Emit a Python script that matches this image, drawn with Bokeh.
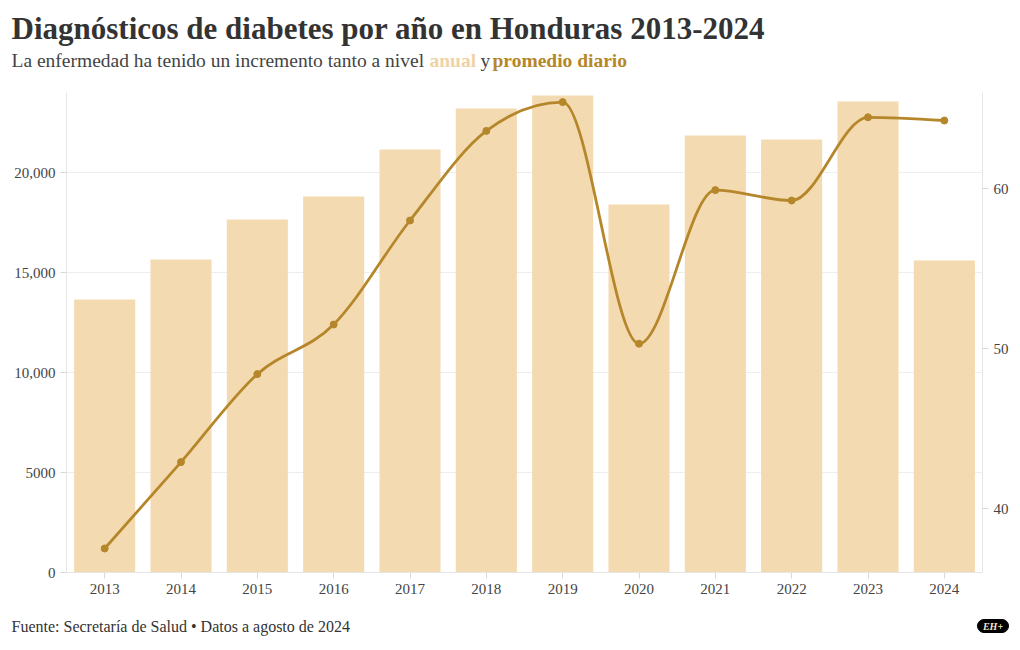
import numpy as np
from bokeh.plotting import figure
from bokeh.layouts import column
from bokeh.models import Range1d, LinearAxis, FixedTicker, ColumnDataSource
from bokeh.core.properties import value
from bokeh.embed import file_html
from bokeh.resources import INLINE

years = [2013, 2014, 2015, 2016, 2017, 2018, 2019, 2020, 2021, 2022, 2023, 2024]
anual = [13650, 15650, 17650, 18800, 21150, 23200, 23850, 18400, 21850, 21650, 23550, 15600]
diario = [37.5, 42.9, 48.4, 51.5, 58.0, 63.6, 65.4, 50.3, 59.9, 59.25, 64.45, 64.25]
left_ticks = [0, 5000, 10000, 15000, 20000]
left_labels = ["0", "5000", "10,000", "15,000", "20,000"]
right_ticks = [40, 50, 60]

title = "Diagnósticos de diabetes por año en Honduras 2013-2024"
sub_texts = ["La enfermedad ha tenido un incremento tanto a nivel", "anual", "y", "promedio diario"]
sub_colors = ["#444444", "#F0D2A4", "#444444", "#B5872A"]
sub_styles = ["normal", "bold", "normal", "bold"]
footer = "Fuente: Secretaría de Salud • Datos a agosto de 2024"
logo = "EH+"

BAR = "#F3DAB1"
LINE = "#B5872A"
FONT = "Liberation Serif"
W = 1020
HEAD_H, MAIN_H, FOOT_H = 84, 516, 50
FL, FR = 66, 982  # frame edges of the chart, page pixels


def blank(h, y0):
    f = figure(width=W, height=h, output_backend="svg", toolbar_location=None,
               x_range=Range1d(0, W), y_range=Range1d(y0 + h, y0),
               x_axis_location=None, y_axis_location=None,
               min_border=0, min_border_left=0, min_border_right=0,
               min_border_top=0, min_border_bottom=0)
    f.outline_line_color = None
    f.grid.grid_line_color = None
    return f

# ---- header
head = blank(HEAD_H, 0)
head.text(x=[11], y=[28], text=[title], text_font=value(FONT), text_font_size=value("31px"),
          text_font_style="bold", text_color="#333333", text_baseline="alphabetic")
sub_x = [11, 429, 480, 492]
for xs, txt, col, st in zip(sub_x, sub_texts, sub_colors, sub_styles):
    head.text(x=[xs], y=[60], text=[txt], text_font=value(FONT), text_font_size=value("19.5px"),
              text_font_style=st, text_color=col, text_baseline="alphabetic")

# ---- main chart
p = figure(width=W, height=MAIN_H, output_backend="svg", toolbar_location=None,
           x_range=Range1d(2012.5, 2024.5), y_range=Range1d(0, 24000),
           min_border_left=FL, min_border_right=W - FR, min_border_top=8, min_border_bottom=28)
p.outline_line_color = None
p.extra_y_ranges = {"right": Range1d(36, 66)}

p.vbar(x=years, top=anual, width=0.8, color=BAR, line_color=None)

# monotone-x cubic (d3 curveMonotoneX) drawn with bezier glyphs
x = np.array(years, float); y = np.array(diario, float)
n = len(x)
h = np.diff(x); s = np.diff(y) / h
t = np.zeros(n)
for i in range(1, n - 1):
    pp = (s[i-1] * h[i] + s[i] * h[i-1]) / (h[i-1] + h[i])
    t[i] = (np.sign(s[i-1]) + np.sign(s[i])) * min(abs(s[i-1]), abs(s[i]), 0.5 * abs(pp))
t[0] = (3 * s[0] - t[1]) / 2
t[-1] = (3 * s[-1] - t[-2]) / 2
src = ColumnDataSource(dict(
    x0=x[:-1], y0=y[:-1], x1=x[1:], y1=y[1:],
    cx0=x[:-1] + h / 3, cy0=y[:-1] + h * t[:-1] / 3,
    cx1=x[1:] - h / 3, cy1=y[1:] - h * t[1:] / 3))
p.bezier(x0="x0", y0="y0", x1="x1", y1="y1", cx0="cx0", cy0="cy0", cx1="cx1", cy1="cy1",
         source=src, line_color=LINE, line_width=2.8, y_range_name="right")
p.scatter(x=years, y=diario, size=7, color=LINE, y_range_name="right")

p.xaxis.ticker = FixedTicker(ticks=years)
p.yaxis.ticker = FixedTicker(ticks=left_ticks)
p.yaxis.major_label_overrides = {t_: l for t_, l in zip(left_ticks, left_labels)}
ra = LinearAxis(y_range_name="right", ticker=FixedTicker(ticks=right_ticks))
p.add_layout(ra, "right")
for ax in [p.xaxis[0], p.yaxis[0], ra]:
    ax.axis_line_color = "#E6E6E6"
    ax.major_tick_line_color = "#D8D8D8"
    ax.minor_tick_line_color = None
    ax.major_tick_out = 6
    ax.major_tick_in = 0
    ax.major_label_text_font = FONT
    ax.major_label_text_font_size = "15px"
    ax.major_label_text_color = "#444444"
p.xgrid.grid_line_color = None
p.ygrid.grid_line_color = "#EEEEEE"

# ---- footer
foot = blank(FOOT_H, HEAD_H + MAIN_H)
foot.text(x=[11], y=[626], text=[footer], text_font=value(FONT), text_font_size=value("16px"),
          text_color="#333333", text_baseline="alphabetic")
foot.rect(x=[992.5], y=[625.5], width=18, height=13, color="black")
foot.circle(x=[983.5, 1001.5], y=[625.5, 625.5], radius=6.5, color="black")
foot.text(x=[992.5], y=[626], text=[logo], text_font=value(FONT), text_font_size=value("10px"),
          text_font_style="bold italic", text_color="#F7E6C8",
          text_align="center", text_baseline="middle")

layout = column(column(head), p, column(foot), spacing=0)
open("out.html", "w").write(file_html(layout, INLINE))
